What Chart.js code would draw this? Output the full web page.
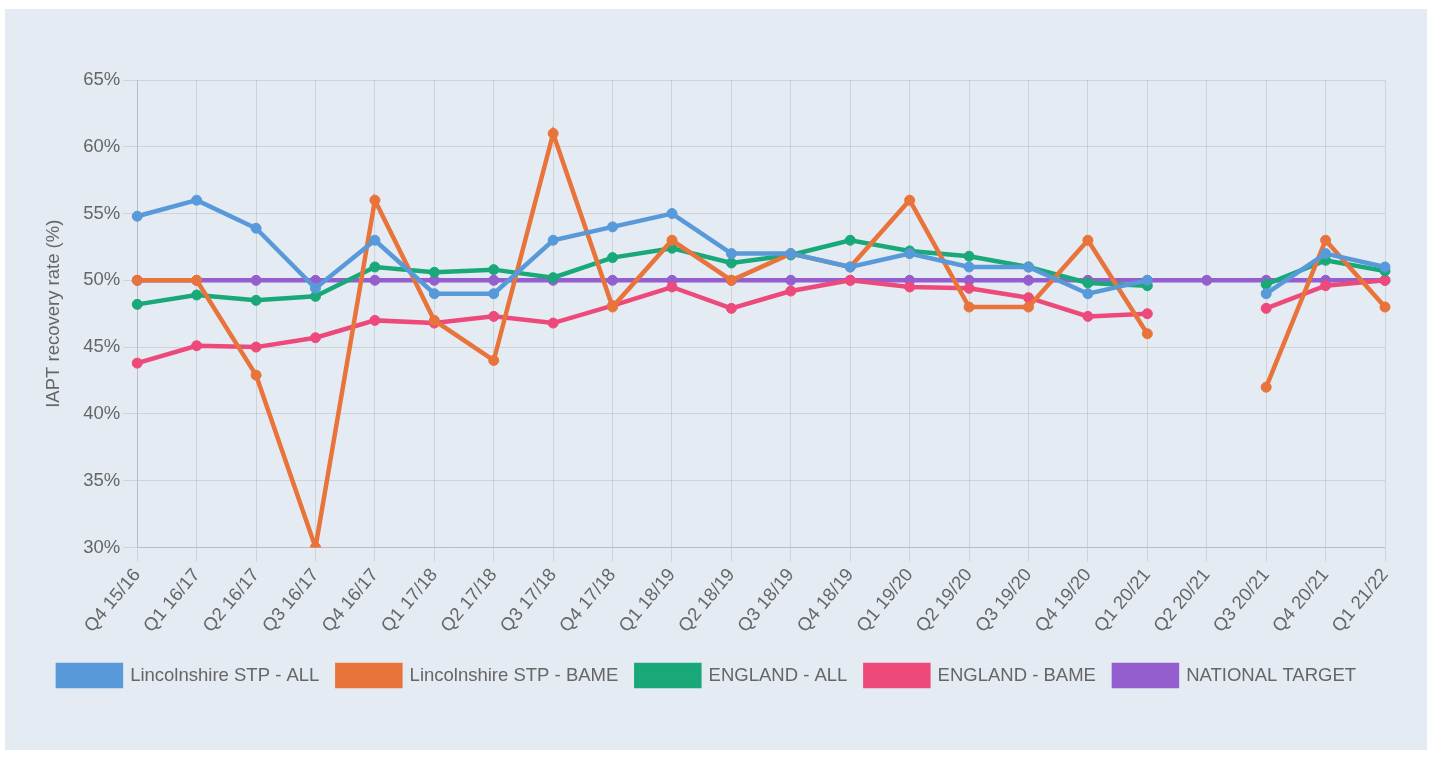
<!DOCTYPE html>
<html>
<head>
<meta charset="utf-8">
<script src="https://cdn.jsdelivr.net/npm/chart.js@4/dist/chart.umd.min.js"></script>
<style>
    body { margin: 0; background: #fff; }
    #panel { position: absolute; left: 5px; top: 9px; width: 1422px; height: 741px; background: #e4ebf2; }
</style>
</head>
<body>
<div id="panel"><canvas id="recoveryChart"></canvas></div>
<script>
const quarters = ["Q4 15/16", "Q1 16/17", "Q2 16/17", "Q3 16/17", "Q4 16/17", "Q1 17/18", "Q2 17/18", "Q3 17/18",
    "Q4 17/18", "Q1 18/19", "Q2 18/19", "Q3 18/19", "Q4 18/19", "Q1 19/20", "Q2 19/20", "Q3 19/20",
    "Q4 19/20", "Q1 20/21", "Q2 20/21", "Q3 20/21", "Q4 20/21", "Q1 21/22"];

const lincsAll = [54.8, 56.0, 53.9, 49.4, 53.0, 49.0, 49.0, 53.0, 54.0, 55.0, 52.0, 52.0, 51.0, 52.0, 51.0, 51.0, 49.0, 50.0, null, 49.0, 52.0, 51.0];
const lincsBame = [50, 50, 42.9, 30, 56, 47, 44, 61, 48, 53, 50, 52, 51, 56, 48, 48, 53, 46, null, 42, 53, 48];
const englandAll = [48.2, 48.9, 48.5, 48.8, 51.0, 50.6, 50.8, 50.2, 51.7, 52.4, 51.3, 51.9, 53.0, 52.2, 51.8, 51.0, 49.8, 49.6, null, 49.7, 51.5, 50.7];
const englandBame = [43.8, 45.1, 45.0, 45.7, 47.0, 46.8, 47.3, 46.8, 48.1, 49.5, 47.9, 49.2, 50.0, 49.5, 49.4, 48.7, 47.3, 47.5, null, 47.9, 49.6, 50.0];
const nationalTarget = [50, 50, 50, 50, 50, 50, 50, 50, 50, 50, 50, 50, 50, 50, 50, 50, 50, 50, 50, 50, 50, 50];

const yTicks = [30, 35, 40, 45, 50, 55, 60, 65];

function series(label, data, colour) {
    return {
        label: label,
        data: data,
        borderColor: colour,
        backgroundColor: colour,
        pointBackgroundColor: colour,
        pointBorderColor: colour,
        borderWidth: 4.5,
        pointRadius: 5,
        pointBorderWidth: 1,
        tension: 0,
        fill: false
    };
}

Chart.defaults.font.family = "'Liberation Sans', Arial, sans-serif";
Chart.defaults.font.size = 18.5;
Chart.defaults.color = "#666";

const ctx = document.getElementById("recoveryChart").getContext("2d");
const chart = new Chart(ctx, {
    type: "line",
    data: {
        labels: quarters,
        datasets: [
            series("Lincolnshire STP - ALL", lincsAll, "#5899da"),
            series("Lincolnshire STP - BAME", lincsBame, "#e8743b"),
            series("ENGLAND - ALL", englandAll, "#19a979"),
            series("ENGLAND - BAME", englandBame, "#ed4a7b"),
            series("NATIONAL TARGET", nationalTarget, "#945ecf")
        ]
    },
    options: {
        responsive: true,
        maintainAspectRatio: false,
        animation: false,
        layout: {
            padding: { left: 24, right: 42, top: 71, bottom: 54 }
        },
        plugins: {
            legend: {
                position: "bottom",
                labels: {
                    boxWidth: 63,
                    boxHeight: 21,
                    padding: 18
                }
            },
            tooltip: { enabled: false }
        },
        scales: {
            x: {
                grid: { color: "rgba(0, 0, 0, 0.1)", tickLength: 14 },
                ticks: { minRotation: 50, maxRotation: 50, autoSkip: false, padding: 3 },
                afterFit: function (axis) {
                    // extra gap between the tick labels and the legend
                    axis.height += 7;
                }
            },
            y: {
                min: 30,
                max: 65,
                afterBuildTicks: function (axis) {
                    axis.ticks = yTicks.map(function (v) { return { value: v }; });
                },
                grid: { color: "rgba(0, 0, 0, 0.1)", tickLength: 14 },
                ticks: {
                    padding: 3,
                    callback: function (v) { return v + "%"; }
                },
                title: {
                    display: true,
                    text: "IAPT recovery rate (%)",
                    padding: { top: 14, bottom: 15 }
                }
            }
        }
    }
});
</script>
</body>
</html>
